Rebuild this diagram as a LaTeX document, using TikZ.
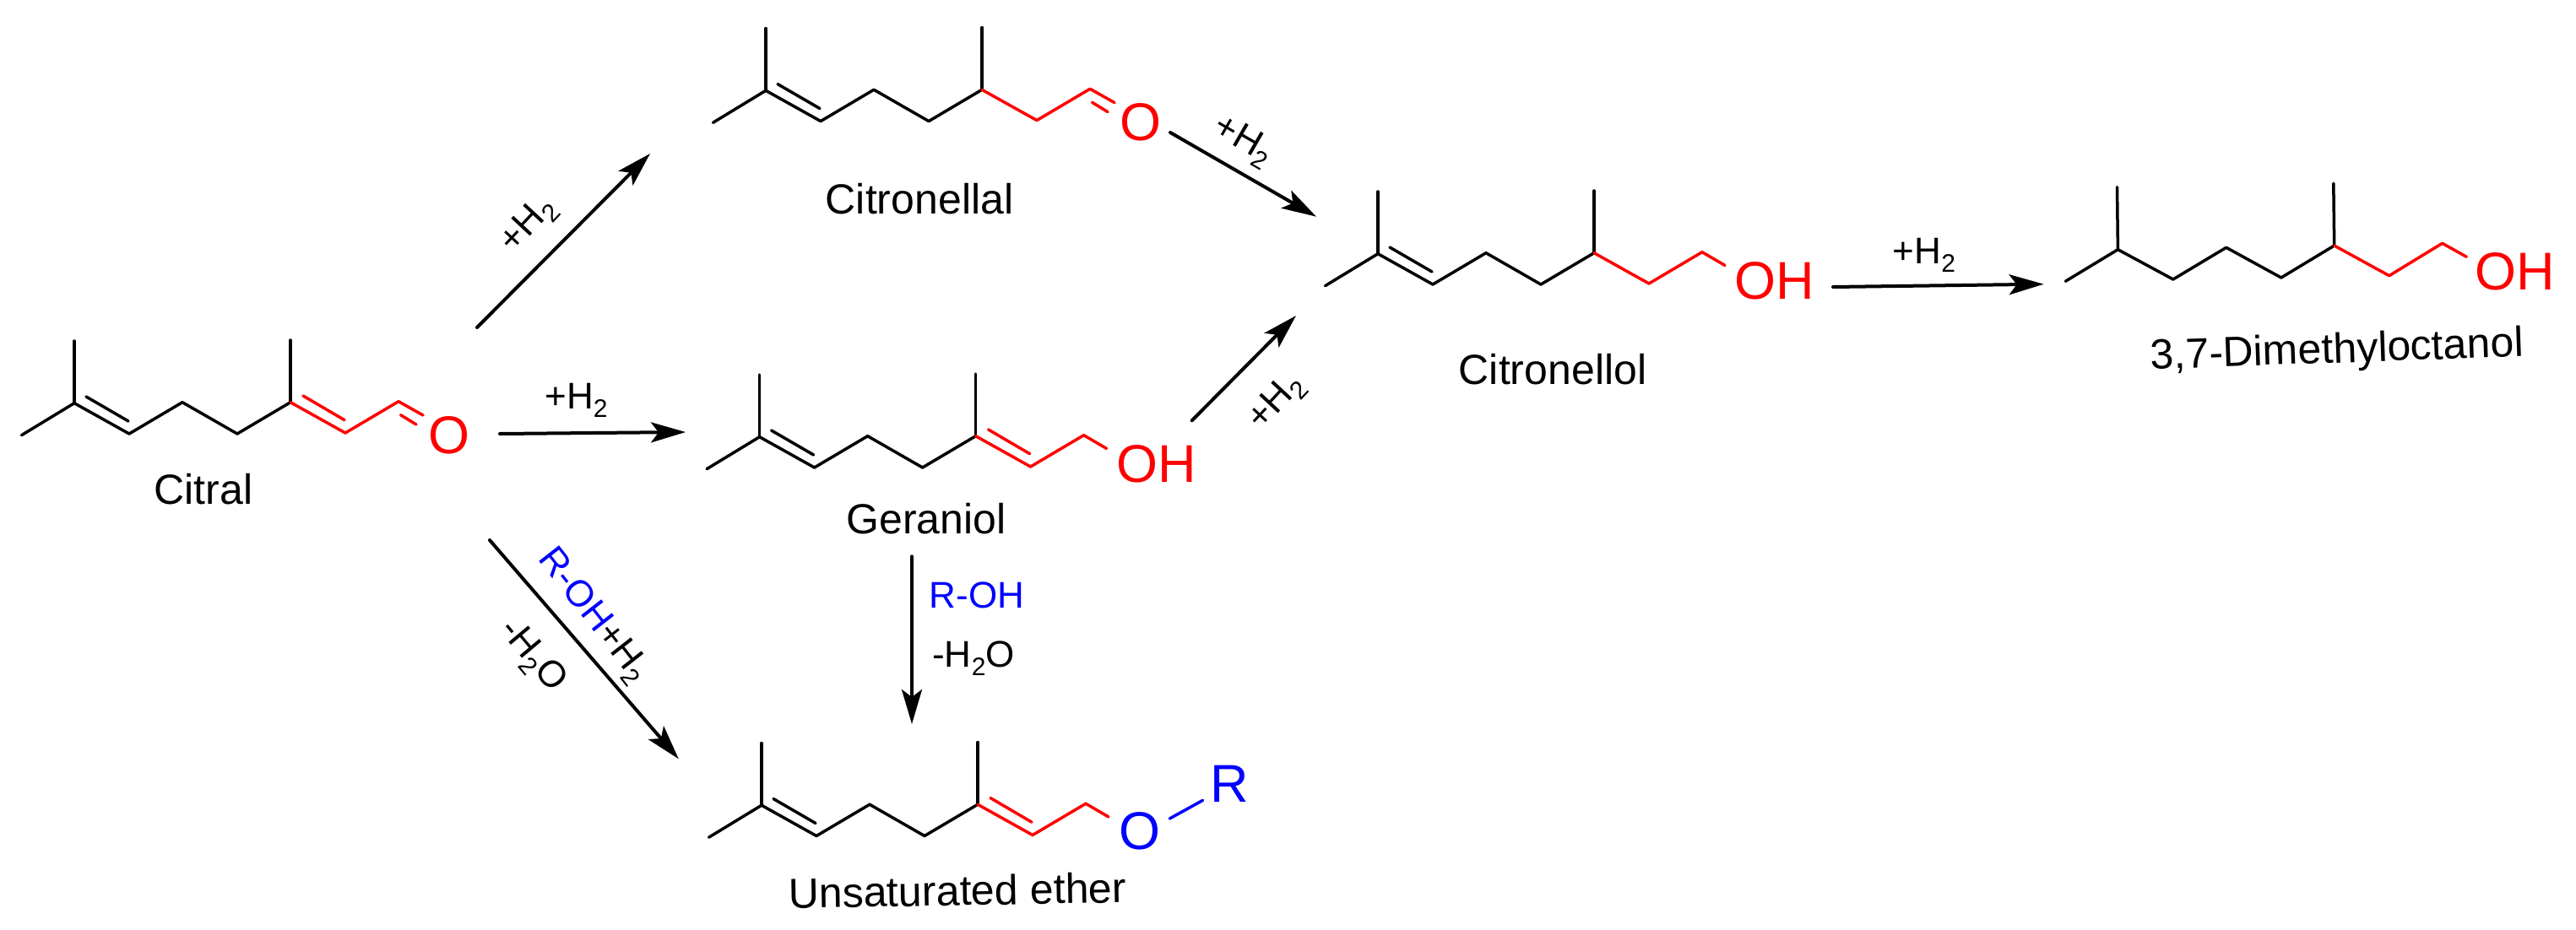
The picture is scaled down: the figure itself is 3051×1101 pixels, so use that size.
\documentclass[tikz,border=0pt]{standalone}
\usepackage{fontspec}
\setmainfont{Liberation Sans}
\usetikzlibrary{arrows.meta}
\definecolor{chemred}{RGB}{255,0,0}
\definecolor{chemblue}{RGB}{0,0,255}
\newcommand{\subtwo}{\raisebox{-10pt}{\fontsize{30}{32}\selectfont 2}}
\tikzset{
  bond/.style={line width=3.5pt,line cap=round,line join=round,draw=black},
  redbond/.style={bond,draw=chemred},
  bluebond/.style={bond,draw=chemblue},
  rxn/.style={line width=4pt,draw=black,line cap=round,-{Stealth[length=41pt,width=24pt,inset=9pt]}},
  atomlbl/.style={inner sep=0pt,font=\fontsize{63}{70}\selectfont},
  namelbl/.style={inner sep=0pt,font=\fontsize{50}{58}\selectfont},
  condlbl/.style={inner sep=0pt,font=\fontsize{44}{50}\selectfont},
}
\newcommand{\terpene}[2]{%
  \begin{scope}[shift={#2},name prefix=#1-]
    \coordinate (a) at (25.5,515.7);
    \coordinate (b) at (88,477.7);
    \coordinate (t1) at (88,404);
    \coordinate (c) at (153,514);
    \coordinate (d) at (216,476.7);
    \coordinate (e) at (281,514);
    \coordinate (f) at (344,476.7);
    \coordinate (t2) at (344,403);
    \coordinate (g) at (409,513);
    \coordinate (h) at (472,475.7);
    \coordinate (p1) at (102,470);
    \coordinate (p2) at (152,499);
    \coordinate (r1) at (359,469);
    \coordinate (r2) at (408,497.7);
    \coordinate (ob) at (501,492);
    \coordinate (o1) at (474.5,491.7);
    \coordinate (o2) at (493,503);
    \coordinate (ohb) at (499,491.5);
    \draw[bond] (a)--(b)--(c)--(d)--(e)--(f);
    \draw[bond] (b)--(t1);
    \draw[bond] (f)--(t2);
    \draw[bond] (p1)--(p2);
  \end{scope}%
}
\begin{document}
\begin{tikzpicture}[x=1pt,y=-1pt]
\useasboundingbox (0,0) rectangle (3051,1101);

% Citral
\terpene{cl}{(0,0)}
\draw[redbond] (cl-f)--(cl-g)--(cl-h);
\draw[redbond] (cl-r1)--(cl-r2);
\draw[redbond] (cl-h)--(cl-ob);
\draw[redbond] (cl-o1)--(cl-o2);
\node[atomlbl,text=chemred] (clO) at (532,515.7) {O};
\node[namelbl] (clN) at (241,580) {Citral};

% Citronellal
\terpene{cn}{(819,-370.4)}
\draw[redbond] (cn-f)--(cn-g)--(cn-h);
\draw[redbond] (cn-h)--(cn-ob);
\draw[redbond] (cn-o1)--(cn-o2);
\node[atomlbl,text=chemred] (cnO) at (1351,145) {O};
\node[namelbl] (cnN) at (1089,236) {Citronellal};

% Geraniol
\terpene{ge}{(811.6,40)}
\draw[redbond] (ge-f)--(ge-g)--(ge-h)--(ge-ohb);
\draw[redbond] (ge-r1)--(ge-r2);
\node[atomlbl,text=chemred] (geO) at (1370,550) {OH};
\node[namelbl] (geN) at (1097,615) {Geraniol};

% Citronellol
\terpene{co}{(1544,-177)}
\draw[redbond] (co-f)--(co-g)--(co-h)--(co-ohb);
\node[atomlbl,text=chemred] (coO) at (2102,332.5) {OH};
\node[namelbl] (coN) at (1839,438) {Citronellol};

% 3,7-Dimethyloctanol
\coordinate (dm-a) at (2446.3,333.3);
\coordinate (dm-b) at (2508.4,295.7);
\coordinate (dm-t1) at (2507.5,221.7);
\coordinate (dm-c) at (2573.8,331);
\coordinate (dm-d) at (2636.7,293.3);
\coordinate (dm-e) at (2701.8,329);
\coordinate (dm-f) at (2764.7,291);
\coordinate (dm-t2) at (2763.8,217.3);
\coordinate (dm-g) at (2829.7,326.7);
\coordinate (dm-h) at (2892.6,288.3);
\coordinate (dm-ohb) at (2921.3,304.3);
\draw[bond] (dm-a)--(dm-b)--(dm-c)--(dm-d)--(dm-e)--(dm-f);
\draw[bond] (dm-b)--(dm-t1);
\draw[bond] (dm-f)--(dm-t2);
\draw[redbond] (dm-f)--(dm-g)--(dm-h)--(dm-ohb);
\node[atomlbl,text=chemred] (dmO) at (2979,322) {OH};
\node[namelbl,rotate=2] (dmN) at (2768,417) {3,7-Dimethyloctanol};

% Unsaturated ether
\terpene{et}{(814,476.5)}
\draw[redbond] (et-f)--(et-g)--(et-h)--(et-ohb);
\draw[redbond] (et-r1)--(et-r2);
\node[atomlbl,text=chemblue] (etO) at (1350,985) {O};
\node[atomlbl,text=chemblue] (etR) at (1456,928.7) {R};
\coordinate (etb1) at (1385.3,970);
\coordinate (etb2) at (1424.6,948.3);
\draw[bluebond] (etb1)--(etb2);
\node[namelbl,rotate=1] (etN) at (1134,1055) {Unsaturated ether};

% Reaction arrows
\coordinate (A1s) at (565,388);   \coordinate (A1e) at (770,182);
\coordinate (A2s) at (592,514);   \coordinate (A2e) at (812,512);
\coordinate (A3s) at (580,640);   \coordinate (A3e) at (803.8,899.3);
\coordinate (A4s) at (1386,157);  \coordinate (A4e) at (1559,256.7);
\coordinate (A5s) at (1411.7,498.3); \coordinate (A5e) at (1535,374);
\coordinate (A6s) at (1080,659.3);  \coordinate (A6e) at (1080,858);
\coordinate (A7s) at (2171,340);  \coordinate (A7e) at (2420.6,336.7);
\draw[rxn] (A1s)--(A1e);
\draw[rxn] (A2s)--(A2e);
\draw[rxn] (A3s)--(A3e);
\draw[rxn] (A4s)--(A4e);
\draw[rxn] (A5s)--(A5e);
\draw[rxn] (A6s)--(A6e);
\draw[rxn] (A7s)--(A7e);

% Condition labels
\node[condlbl,rotate=47] (L1) at (626,267) {+H\subtwo};
\node[condlbl] (L2) at (682.4,474) {+H\subtwo};
\node[condlbl,rotate=-52] (L3) at (702,730) {\textcolor{chemblue}{R-OH}+H\subtwo};
\node[condlbl,rotate=-50] (L4) at (630,778) {-H\subtwo O};
\node[condlbl,rotate=-30] (L5) at (1472,167) {+H\subtwo};
\node[condlbl,rotate=47] (L6) at (1512,477) {+H\subtwo};
\node[condlbl,text=chemblue] (L7) at (1157,705) {R-OH};
\node[condlbl] (L8) at (1153,780) {-H\subtwo O};
\node[condlbl] (L9) at (2279,302) {+H\subtwo};
\end{tikzpicture}
\end{document}
